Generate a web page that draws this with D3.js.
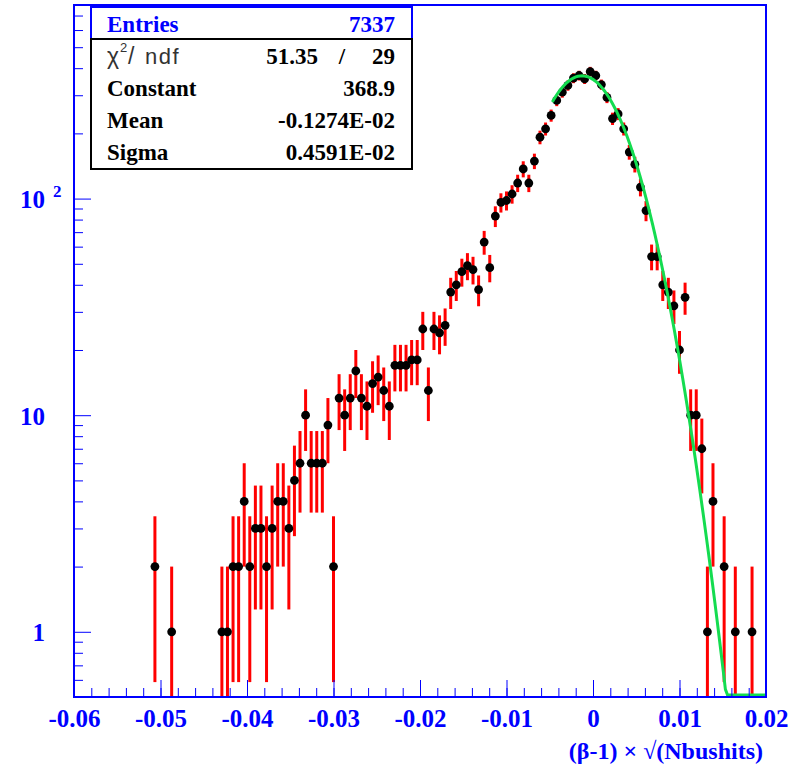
<!DOCTYPE html>
<html>
<head>
<meta charset="utf-8">
<title>beta - 1 residuals</title>
<style>
  body { margin: 0; background: #fff; }
  svg text { font-family: "Liberation Serif", "Times New Roman", serif; font-weight: bold; }
</style>
</head>
<body>
<svg width="798" height="768"></svg>
<script src="https://cdn.jsdelivr.net/npm/d3@7/dist/d3.min.js"></script>
<script>
// histogram binning
var nBins = 124, xMin = -0.06, xMax = 0.02;

// bin contents, bin 0 .. 123
var counts = [
  0, 0, 0, 0, 0, 0, 0, 0, 0, 0,
  0, 0, 0, 0, 2, 0, 0, 1, 0, 0,
  0, 0, 0, 0, 0, 0, 1, 1, 2, 2,
  4, 2, 3, 3, 2, 3, 4, 4, 3, 5,
  6, 10, 6, 6, 6, 9, 2, 12, 10, 12,
  16, 12, 11, 14, 15, 13, 11, 17, 17, 17,
  18, 18, 25, 13, 25, 24, 26, 37, 40, 46,
  49, 47, 38, 63, 48, 83, 96, 98, 105, 118,
  137, 118, 149, 192, 210, 242, 284, 310, 333, 360,
  370, 357, 386, 370, 336, 293, 234, 246, 210, 164,
  144, 113, 88, 54, 54, 40, 37, 32, 20, 35,
  10, 10, 7, 1, 4, 0, 2, 0, 1, 0,
  0, 1, 0, 0
];

// gaussian fit (from stats box)
var fitConst = 368.9, fitMean = -0.001274, fitSigma = 0.004591;
var fitRange = [-0.0047, 0.02];

var xMajor = [-0.06, -0.05, -0.04, -0.03, -0.02, -0.01, 0, 0.01, 0.02];
var xTickLabels = ["-0.06", "-0.05", "-0.04", "-0.03", "-0.02", "-0.01", "0", "0.01", "0.02"];
var yMajor = [1, 10, 100];
var yTickLabels = ["1", "10", "10"];

var statNames = ["Constant", "Mean", "Sigma"];
var statValues = ["368.9", "-0.1274E-02", "0.4591E-02"];
var entries = "7337";
var chi2 = "51.35", ndf = "29";

var blue = "#0000ff";
var fl = 74, fr = 766, ft = 5, fb = 697;

var svg = d3.select("svg");

var x = d3.scaleLinear().domain([xMin, xMax]).range([fl, fr]);
var y = d3.scaleLog().domain([0.5, 783]).range([fb, ft]);

svg.append("clipPath").attr("id", "frameclip")
  .append("rect").attr("x", fl).attr("y", ft).attr("width", fr - fl).attr("height", fb - ft);

var binW = (xMax - xMin) / nBins;
var pts = [];
counts.forEach(function(c, i) {
  if (c > 0) pts.push({ x: xMin + (i + 0.5) * binW, v: c, e: Math.sqrt(c) });
});

var plot = svg.append("g").attr("clip-path", "url(#frameclip)");

// error bars
plot.selectAll("line.err").data(pts).enter().append("line")
  .attr("class", "err")
  .attr("x1", function(d) { return x(d.x); })
  .attr("x2", function(d) { return x(d.x); })
  .attr("y1", function(d) { return d.v - d.e > 0.5 ? y(d.v - d.e) : fb + 2; })
  .attr("y2", function(d) { return y(d.v + d.e); })
  .attr("stroke", "#ff0000")
  .attr("stroke-width", 3);

// markers
plot.selectAll("circle").data(pts).enter().append("circle")
  .attr("cx", function(d) { return x(d.x); })
  .attr("cy", function(d) { return y(d.v); })
  .attr("r", 4.4)
  .attr("fill", "#000");

// fit curve, sampled like root does (npx = 100)
var fitPts = d3.range(0, 101).map(function(k) {
  var xx = fitRange[0] + k * (fitRange[1] - fitRange[0]) / 100;
  var z = (xx - fitMean) / fitSigma;
  return [xx, Math.max(0.5, fitConst * Math.exp(-0.5 * z * z))];
});
plot.append("path")
  .datum(fitPts)
  .attr("d", d3.line().x(function(d) { return x(d[0]); }).y(function(d) { return Math.min(y(d[1]), fb - 2); }))
  .attr("fill", "none")
  .attr("stroke", "#14dc50")
  .attr("stroke-width", 3);

// axes
var xMinor = d3.range(0, 41).map(function(i) { return xMin + i * 0.002; });
svg.append("g").attr("transform", "translate(0," + fb + ")")
  .call(d3.axisBottom(x).tickValues(xMinor).tickSize(-9).tickFormat(""))
  .call(function(g) { g.select(".domain").remove(); });

var gx = svg.append("g").attr("transform", "translate(0," + fb + ")")
  .call(d3.axisBottom(x).tickValues(xMajor).tickSize(-17).tickFormat(function(d, i) { return xTickLabels[i]; }));
gx.select(".domain").remove();
gx.selectAll("text").attr("y", 30).attr("dy", null)
  .attr("fill", blue).style("font-size", "25px");

var yMinor = y.ticks().filter(function(d) { return yMajor.indexOf(d) < 0; });
svg.append("g").attr("transform", "translate(" + fl + ",0)")
  .call(d3.axisLeft(y).tickValues(yMinor).tickSize(-9).tickFormat(""))
  .call(function(g) { g.select(".domain").remove(); });

var gy = svg.append("g").attr("transform", "translate(" + fl + ",0)")
  .call(d3.axisLeft(y).tickValues(yMajor).tickSize(-17).tickFormat(function(d, i) { return yTickLabels[i]; }));
gy.select(".domain").remove();
gy.selectAll("text").attr("x", -29).attr("dy", null).attr("y", 9)
  .attr("fill", blue).style("font-size", "25px");
gy.selectAll(".tick").filter(function(d) { return d === 100; })
  .append("text").attr("x", -21).attr("y", -2)
  .attr("fill", blue).attr("text-anchor", "start").style("font-size", "17px")
  .text("2");

svg.selectAll(".tick line").attr("stroke", blue);

// frame
svg.append("rect").attr("x", fl).attr("y", ft).attr("width", fr - fl).attr("height", fb - ft)
  .attr("fill", "none").attr("stroke", blue).attr("stroke-width", 2);

// axis title
svg.append("text").attr("x", 763).attr("y", 759).attr("text-anchor", "end")
  .attr("fill", blue).style("font-size", "24px")
  .text("(β-1) × √(Nbushits)");

// stats box
var sb = svg.append("g");
sb.append("rect").attr("x", 91).attr("y", 7).attr("width", 321).attr("height", 32)
  .attr("fill", "#fff").attr("stroke", blue).attr("stroke-width", 2);
sb.append("rect").attr("x", 91).attr("y", 39).attr("width", 321).attr("height", 130)
  .attr("fill", "#fff").attr("stroke", "#000").attr("stroke-width", 2);

sb.append("text").attr("x", 107).attr("y", 32).attr("fill", blue).style("font-size", "23px").text("Entries");
sb.append("text").attr("x", 395).attr("y", 32).attr("text-anchor", "end").attr("fill", blue).style("font-size", "23px").text(entries);

var sans = '"Liberation Sans", Arial, sans-serif';
sb.append("text").attr("x", 107).attr("y", 64).style("font-family", sans).style("font-weight", "normal")
  .style("font-size", "23px").attr("fill", "#333").text("χ");
sb.append("text").attr("x", 120).attr("y", 52).style("font-family", sans).style("font-weight", "normal")
  .style("font-size", "13px").attr("fill", "#333").text("2");
sb.append("text").attr("x", 128).attr("y", 64).style("font-family", sans).style("font-weight", "normal")
  .style("font-size", "23px").attr("fill", "#333").text("/");
sb.append("text").attr("x", 145).attr("y", 64).style("font-family", sans).style("font-weight", "normal")
  .style("font-size", "22px").attr("fill", "#333").attr("letter-spacing", "1.5px").text("ndf");

sb.append("text").attr("x", 318).attr("y", 64).attr("text-anchor", "end").style("font-size", "23px").text(chi2);
sb.append("text").attr("x", 342).attr("y", 64).attr("text-anchor", "middle").style("font-size", "23px").text("/");
sb.append("text").attr("x", 395).attr("y", 64).attr("text-anchor", "end").style("font-size", "23px").text(ndf);

statNames.forEach(function(n, i) {
  var by = 96 + i * 32;
  sb.append("text").attr("x", 107).attr("y", by).style("font-size", "23px").text(n);
  sb.append("text").attr("x", 395).attr("y", by).attr("text-anchor", "end").style("font-size", "23px").text(statValues[i]);
});
</script>
</body>
</html>
